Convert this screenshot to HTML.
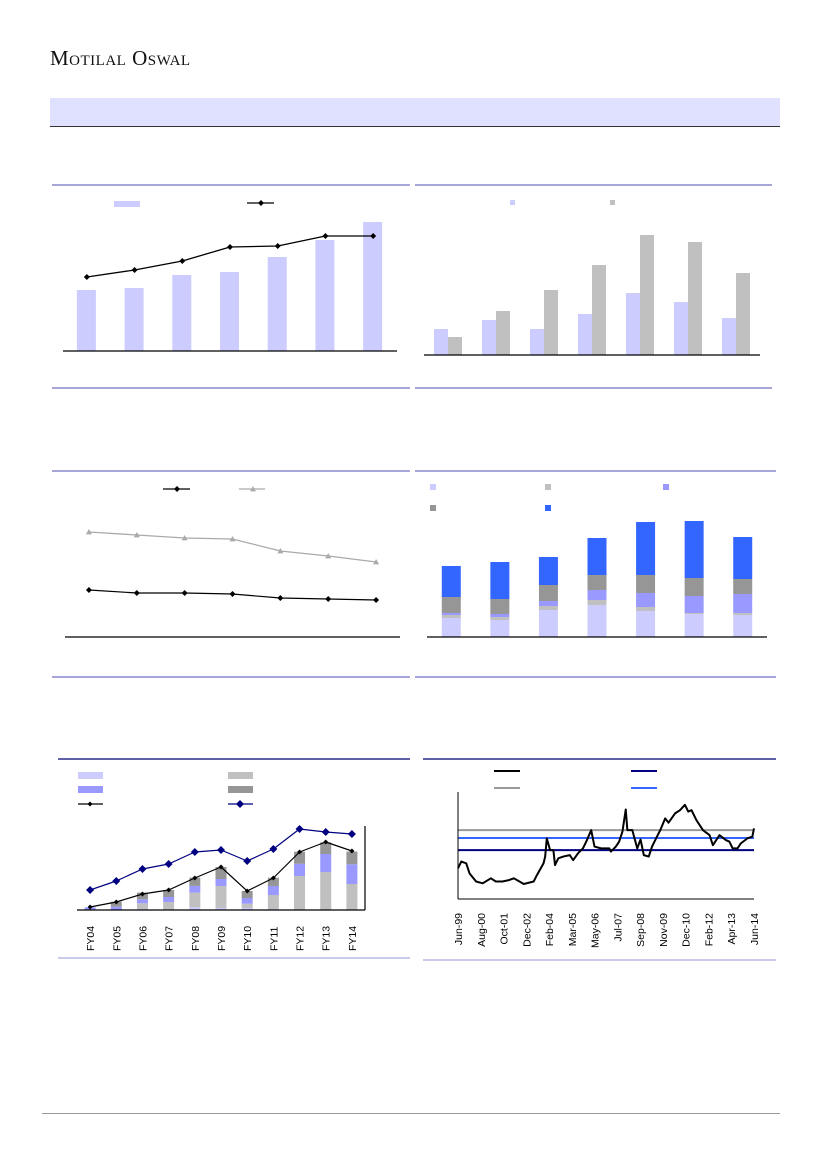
<!DOCTYPE html>
<html><head><meta charset="utf-8"><style>
body{margin:0;background:#fff;}
#pg{position:relative;width:827px;height:1169px;overflow:hidden;font-family:"Liberation Sans",sans-serif;}
.abs{position:absolute;}
</style></head><body>
<div id="pg">
<div class="abs" style="left:50px;top:46px;font-family:'Liberation Serif',serif;font-size:21px;letter-spacing:0.5px;color:#111;font-variant:small-caps;">Motilal Oswal</div>
<div class="abs" style="left:50px;top:98px;width:730px;height:28px;background:#e0e0ff;border-bottom:1px solid #333;"></div>
<div class="abs" style="left:42px;top:1113px;width:738px;height:1px;background:#999;"></div>
<svg id="sv" class="abs" style="left:0;top:0" width="827" height="1169"></svg>
</div>
<script>
// Chart 1
const c1Cats=['1','2','3','4','5','6','7'];
const c1Bars=[61,63,76,79,94,111,129];
const c1Line=[74,81,90,104,105,115,115];
// Chart 2
const c2Cats=['1','2','3','4','5','6','7'];
const c2A=[26,35,26,41,62,53,37];
const c2B=[18,44,65,90,120,113,82];
// Chart 3
const c3Cats=['1','2','3','4','5','6','7'];
const c3Gray=[105,102,99,98,86,81,75];
const c3Black=[47,44,44,43,39,38,37];
// Chart 4
const c4Cats=['1','2','3','4','5','6','7'];
const c4S1=[19,17,27,32,26,23,22];
const c4S2=[3,3,4,5,4,1,2];
const c4S3=[2,3,5,10,14,17,19];
const c4S4=[16,15,16,15,18,18,15];
const c4S5=[31,37,28,37,53,57,42];
// Chart 5
const c5Cats=['FY04','FY05','FY06','FY07','FY08','FY09','FY10','FY11','FY12','FY13','FY14'];
const c5S1=[0,0,1,0,2.7,2,2,1,0,0,0];
const c5S2=[0,0,5.7,8,14.7,22,4.3,14,34,38,26];
const c5S3=[2.7,3.3,4,5,6.7,7,5.7,9,12.3,18,19.7];
const c5S4=[0,5,6.7,7,8.3,12,7,8.3,12,11.7,12.7];
const c5Black=[3,8,16,20,32,43,19,32,58,68,59];
const c5Navy=[20,29,41,46,58,60,49,61,81,78,76];
// Chart 6
const c6Months=[0,2,5,7,11,15,20,23,27,31,34,40,46,48,52,53,54,56,58,59,61,64,68,70,73,76,78,81,83,87,92,93,96,98,100,102,103,106,109,111,113,116,118,121,123,126,128,132,135,138,140,142,145,147,149,153,155,159,163,165,167,170,172,176,179,180];
const c6Vals=[8.6,10.5,10.0,7.2,4.9,4.4,5.8,4.9,4.9,5.3,5.8,4.2,4.9,6.7,10.0,11.9,17.0,13.7,13.7,9.5,11.4,11.9,12.3,10.9,12.8,14.2,16.1,19.3,14.7,14.2,14.2,13.3,14.7,16.1,18.9,25.1,19.3,19.3,14.2,16.7,12.3,11.9,14.7,17.5,19.3,22.6,21.4,24.0,24.9,26.4,24.5,24.9,22.1,20.7,19.3,17.9,15.1,17.9,16.5,16.1,14.2,14.2,15.6,17.0,17.5,19.8];
const c6Avg=19.3, c6Plus=17.1, c6Minus=13.7;
const c6Ticks=['Jun-99','Aug-00','Oct-01','Dec-02','Feb-04','Mar-05','May-06','Jul-07','Sep-08','Nov-09','Dec-10','Feb-12','Apr-13','Jun-14'];

const NS='http://www.w3.org/2000/svg';
const sv=document.getElementById('sv');
function mk(tag,a){const e=document.createElementNS(NS,tag);for(const k in a)e.setAttribute(k,a[k]);sv.appendChild(e);return e;}
function rect(x,y,w,h,f,name){const e=mk('rect',{x:x,y:y,width:w,height:h,fill:f});

return e;}
function line(x1,y1,x2,y2,s,w,name){const e=mk('line',{x1:x1,y1:y1,x2:x2,y2:y2,stroke:s,'stroke-width':w});

return e;}
function poly(pts,s,w,name){const e=mk('polyline',{points:pts.map(p=>p.join(',')).join(' '),fill:'none',stroke:s,'stroke-width':w,'stroke-linejoin':'round'});

return e;}
function diamond(x,y,r,f,name){const e=mk('polygon',{points:`${x},${y-r} ${x+r},${y} ${x},${y+r} ${x-r},${y}`,fill:f});

return e;}
function tri(x,y,r,f,name){const e=mk('polygon',{points:`${x},${y-r} ${x+r},${y+r*0.8} ${x-r},${y+r*0.8}`,fill:f});

return e;}

// section rules
[[52,410,185,'#7070c0'],[415,772,185,'#7070c0'],[52,410,388,'#7070c0'],[415,772,388,'#7070c0'],
 [52,410,471,'#7070c0'],[415,776,471,'#7070c0'],[52,410,677,'#7070c0'],[415,776,677,'#7070c0'],
 [58,410,759,'#000070'],[423,776,759,'#000070'],[58,410,958,'#aaaadd'],[423,776,960,'#aaaadd']].forEach(r=>line(r[0],r[2],r[1],r[2],r[3],1.3,'section-rule'));

// Chart 1
(function(){const base=351,x0=63,x1=397,n=c1Cats.length,step=(x1-x0)/n;
const xs=i=>x0+step*(i+0.5), yb=v=>base-v, yl=v=>base-v;
c1Bars.forEach((v,i)=>rect(xs(i)-10,yb(v),19,v,'#ccccff','c1-bar'));
poly(c1Line.map((v,i)=>[xs(i),yl(v)]),'#000',1.3,'c1-line');
c1Line.forEach((v,i)=>diamond(xs(i),yl(v),3,'#000','c1-marker'));
line(x0,base,x1,base,'#000',1.2,'c1-x-axis');
rect(114,201,26,6,'#ccccff','c1-legend-bar');
line(247,203,274,203,'#000',1.2,'c1-legend-line');diamond(261,203,3,'#000','c1-legend-marker');})();

// Chart 2
(function(){const base=355,x0=424,x1=760,n=c2Cats.length,step=(x1-x0)/n;const xs=i=>x0+step*(i+0.5);
c2A.forEach((v,i)=>rect(xs(i)-14,base-v,14,v,'#ccccff','c2-bar-a'));
c2B.forEach((v,i)=>rect(xs(i),base-v,14,v,'#c0c0c0','c2-bar-b'));
line(x0,base,x1,base,'#000',1.2,'c2-x-axis');
rect(510,200,5,5,'#ccccff','c2-legend-a');rect(610,200,5,5,'#c0c0c0','c2-legend-b');})();

// Chart 3
(function(){const base=637,x0=65,x1=400,n=c3Cats.length,step=(x1-x0)/n;const xs=i=>x0+step*(i+0.5),y=v=>base-v;
poly(c3Gray.map((v,i)=>[xs(i),y(v)]),'#aaa',1.3,'c3-gray-line');
c3Gray.forEach((v,i)=>tri(xs(i),y(v),3,'#aaa','c3-gray-marker'));
poly(c3Black.map((v,i)=>[xs(i),y(v)]),'#000',1.2,'c3-black-line');
c3Black.forEach((v,i)=>diamond(xs(i),y(v),3,'#000','c3-black-marker'));
line(x0,base,x1,base,'#000',1.2,'c3-x-axis');
line(163,489,190,489,'#000',1.2,'c3-legend-black');diamond(177,489,3,'#000','c3-legend-black-marker');
line(239,489,265,489,'#aaa',1.2,'c3-legend-gray');tri(253,489,3,'#aaa','c3-legend-gray-marker');})();

// Chart 4
(function(){const base=637,x0=427,x1=767,n=c4Cats.length,step=(x1-x0)/n;const xs=i=>x0+step*(i+0.5);
const series=[[c4S1,'#ccccff'],[c4S2,'#c0c0c0'],[c4S3,'#9999ff'],[c4S4,'#969696'],[c4S5,'#3366ff']];
c4Cats.forEach((c,i)=>{let acc=0;series.forEach((s,k)=>{const v=s[0][i];rect(xs(i)-9.5,base-acc-v,19,v,s[1],'c4-segment');acc+=v;});});
line(x0,base,x1,base,'#000',1.2,'c4-x-axis');
[[430,487,'#ccccff'],[545,487,'#c0c0c0'],[663,487,'#9999ff'],[430,508,'#969696'],[545,508,'#3366ff']].forEach(l=>rect(l[0],l[1]-3,6,6,l[2],'c4-legend-swatch'));})();

// Chart 5
(function(){const base=910,x0=77,x1=365,n=c5Cats.length,step=(x1-x0)/n;const xs=i=>x0+step*(i+0.5),y=v=>base-v;
const series=[[c5S1,'#ccccff'],[c5S2,'#c0c0c0'],[c5S3,'#9999ff'],[c5S4,'#969696']];
c5Cats.forEach((c,i)=>{let acc=0;series.forEach(s=>{const v=s[0][i];rect(xs(i)-5.5,base-acc-v,11,v,s[1],'c5-segment');acc+=v;});});
poly(c5Navy.map((v,i)=>[xs(i),y(v)]),'#000080',1.2,'c5-navy-line');
c5Navy.forEach((v,i)=>diamond(xs(i),y(v),4,'#000080','c5-navy-marker'));
poly(c5Black.map((v,i)=>[xs(i),y(v)]),'#000',1.2,'c5-black-line');
c5Black.forEach((v,i)=>diamond(xs(i),y(v),2.5,'#000','c5-black-marker'));
line(x0,base,x1,base,'#000',1.2,'c5-x-axis');line(x1,826,x1,base,'#000',1.2,'c5-y-axis');
c5Cats.forEach((c,i)=>{const t=mk('text',{x:0,y:0,transform:`translate(${xs(i)+4},${951}) rotate(-90)`,'font-size':'10.5','fill':'#000'});t.textContent=c;

});
rect(78,772,25,7,'#ccccff','c5-legend-1');rect(228,772,25,7,'#c0c0c0','c5-legend-2');
rect(78,786,25,7,'#9999ff','c5-legend-3');rect(228,786,25,7,'#969696','c5-legend-4');
line(78,804,103,804,'#000',1.2,'c5-legend-black');diamond(90,804,2.5,'#000','c5-legend-black-marker');
line(228,804,253,804,'#000080',1.2,'c5-legend-navy');diamond(240,804,4,'#000080','c5-legend-navy-marker');})();

// Chart 6
(function(){const x0=458,x1=754,yb=899,maxM=180,maxV=30;const x=m=>x0+(x1-x0)*m/maxM,y=v=>yb-(yb-792)*v/maxV;
line(x0,y(c6Avg),x1,y(c6Avg),'#999',2,'c6-average-line');
line(x0,y(c6Plus),x1,y(c6Plus),'#3366ff',2,'c6-plus-sd-line');
line(x0,y(c6Minus),x1,y(c6Minus),'#000080',2,'c6-minus-sd-line');
poly(c6Months.map((m,i)=>[x(m),y(c6Vals[i])]),'#000',2,'c6-pe-line');
line(x0,792,x0,yb,'#000',1,'c6-y-axis');line(x0,yb,x1,yb,'#000',1,'c6-x-axis');
c6Ticks.forEach((t,i)=>{const m=i*(maxM/(c6Ticks.length-1));const e=mk('text',{x:0,y:0,transform:`translate(${x(m)+4},${913}) rotate(-90)`,'font-size':'10.5','text-anchor':'end','fill':'#000'});e.textContent=t;

});
line(494,771,520,771,'#000',2,'c6-legend-pe');line(631,771,657,771,'#000080',2,'c6-legend-minus');
line(494,788,520,788,'#999',2,'c6-legend-avg');line(631,788,657,788,'#3366ff',2,'c6-legend-plus');})();
</script>
</body></html>
